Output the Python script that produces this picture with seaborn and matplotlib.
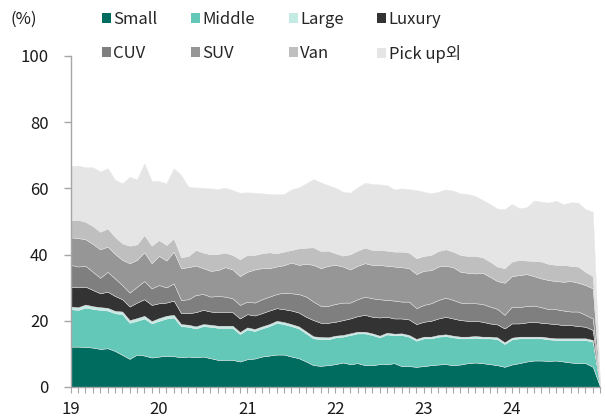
import numpy as np
import matplotlib
matplotlib.use("Agg")
import matplotlib.pyplot as plt
import seaborn as sns
from matplotlib.patches import Patch
from matplotlib.ticker import MultipleLocator

# monthly share (%) Jan 2019 - Dec 2024, last point closes to zero
months = np.arange(73)
year_labels = ["19", "20", "21", "22", "23", "24"]

small = [12.2, 12.2, 12.1, 11.9, 11.5, 11.7, 10.9, 9.7, 8.5, 9.8, 9.5, 8.9,
         9.2, 9.4, 9.3, 9.0, 9.2, 9.0, 9.2, 8.7, 8.2, 8.2, 8.2, 7.7,
         8.4, 8.6, 9.2, 9.5, 9.8, 9.8, 9.2, 8.7, 7.7, 6.6, 6.4, 6.6,
         6.9, 7.4, 6.9, 7.2, 6.6, 6.6, 6.9, 6.9, 7.2, 6.3, 6.3, 6.1,
         6.3, 6.6, 6.8, 6.9, 6.6, 6.8, 7.2, 7.4, 7.2, 6.9, 6.6, 6.1,
         6.8, 7.2, 7.7, 8.0, 8.0, 7.9, 8.0, 7.7, 7.4, 7.2, 7.2, 6.1, 0]
middle = [11.3, 11.1, 11.9, 11.7, 11.8, 11.4, 11.4, 12.3, 10.9, 10.2, 11.2, 10.3,
          10.8, 11.3, 11.7, 9.4, 9.0, 8.7, 9.2, 9.5, 9.7, 9.7, 9.7, 8.3,
          9.0, 8.3, 8.5, 8.9, 9.6, 9.2, 9.2, 9.0, 8.5, 8.1, 8.1, 7.8,
          8.1, 7.8, 8.8, 9.0, 9.6, 9.1, 8.1, 9.0, 8.4, 9.4, 8.9, 7.9,
          8.4, 8.1, 8.4, 8.5, 8.4, 7.9, 7.5, 7.5, 7.5, 7.8, 7.9, 6.9,
          7.6, 7.5, 7.0, 6.7, 6.7, 6.5, 6.2, 6.5, 6.8, 7.0, 7.0, 7.6, 0]
large = [0.8, 0.8, 0.9, 0.8, 0.8, 0.8, 0.7, 0.8, 0.8, 0.8, 0.8, 0.7,
         0.8, 0.8, 0.8, 0.6, 0.6, 0.6, 0.6, 0.6, 0.6, 0.6, 0.6, 0.6,
         0.6, 0.6, 0.6, 0.6, 0.6, 0.6, 0.6, 0.6, 0.6, 0.6, 0.6, 0.6,
         0.5, 0.5, 0.5, 0.5, 0.5, 0.5, 0.5, 0.5, 0.5, 0.5, 0.5, 0.5,
         0.5, 0.5, 0.5, 0.5, 0.5, 0.5, 0.5, 0.5, 0.5, 0.5, 0.5, 0.5,
         0.5, 0.5, 0.5, 0.5, 0.5, 0.5, 0.5, 0.5, 0.5, 0.5, 0.5, 0.5, 0]
luxury = [6.0, 6.0, 5.4, 4.9, 4.2, 4.9, 4.5, 3.7, 4.1, 4.7, 5.0, 4.9,
          4.5, 4.0, 4.3, 3.3, 3.5, 4.3, 4.3, 4.0, 4.1, 4.1, 4.1, 4.1,
          4.0, 4.1, 4.0, 4.1, 3.8, 3.9, 4.1, 4.2, 4.4, 4.9, 4.3, 4.4,
          4.2, 4.5, 4.5, 4.7, 5.1, 5.0, 5.5, 4.8, 4.6, 4.5, 4.7, 4.5,
          4.5, 4.8, 5.0, 5.3, 5.2, 5.0, 4.8, 4.6, 4.5, 4.0, 3.9, 4.2,
          4.3, 4.0, 4.3, 4.5, 4.2, 4.3, 4.3, 4.0, 4.0, 3.7, 3.5, 3.0, 0]
cuv = [6.6, 6.3, 6.3, 5.5, 4.7, 6.0, 5.3, 4.3, 4.2, 4.8, 5.5, 5.0,
       5.5, 4.6, 5.2, 4.0, 4.2, 5.2, 4.8, 4.5, 4.9, 4.7, 4.2, 4.1,
       3.8, 3.9, 4.2, 4.2, 4.3, 5.0, 5.2, 5.6, 6.1, 5.6, 5.1, 5.1,
       5.4, 5.3, 4.8, 5.1, 5.5, 5.6, 5.5, 5.1, 5.4, 5.1, 5.4, 4.8,
       5.1, 5.3, 5.6, 5.8, 5.6, 5.3, 5.3, 5.3, 5.4, 5.1, 4.7, 4.1,
       5.1, 4.9, 5.0, 4.9, 4.7, 4.3, 4.5, 4.4, 4.1, 4.4, 3.6, 3.5, 0]
suv = [8.3, 8.6, 8.0, 8.4, 8.6, 7.6, 7.4, 7.6, 8.9, 8.1, 8.7, 7.6,
       8.8, 8.1, 9.6, 9.6, 9.7, 8.9, 7.8, 7.8, 7.8, 8.9, 8.7, 8.7,
       9.0, 10.0, 9.4, 8.6, 8.3, 8.3, 9.3, 8.8, 9.9, 11.1, 11.4, 12.1,
       11.8, 10.9, 10.0, 10.1, 10.1, 10.1, 10.4, 10.3, 10.3, 10.4, 10.1, 10.3,
       10.3, 10.0, 10.1, 9.6, 9.9, 9.3, 9.2, 9.0, 9.4, 9.0, 8.4, 9.7,
       9.2, 9.7, 9.6, 8.9, 8.7, 8.8, 8.5, 8.7, 9.2, 8.7, 9.0, 9.1, 0]
van = [5.1, 5.5, 5.3, 5.4, 5.3, 5.5, 5.2, 5.0, 5.3, 4.7, 5.2, 5.3,
       4.8, 4.7, 4.0, 3.3, 3.4, 4.7, 4.7, 5.0, 4.9, 4.4, 4.4, 5.1,
       5.1, 4.4, 4.5, 4.8, 4.0, 4.1, 3.8, 5.0, 4.9, 5.3, 5.2, 4.6,
       3.5, 3.3, 4.6, 4.6, 4.7, 4.5, 4.5, 4.6, 4.5, 4.7, 4.7, 4.8,
       4.5, 4.6, 4.7, 5.0, 4.7, 5.1, 5.1, 5.3, 4.7, 4.6, 4.4, 4.4,
       4.4, 4.6, 4.1, 4.6, 5.1, 4.9, 4.9, 5.1, 4.6, 4.9, 4.0, 3.7, 0]
pickup_etc = [16.5, 16.4, 16.5, 17.8, 18.2, 18.2, 17.3, 18.1, 20.8, 19.6, 21.7, 19.6,
              17.8, 18.6, 21.2, 24.8, 20.9, 18.9, 19.6, 19.9, 19.6, 19.6, 19.6, 20.1,
              18.9, 18.8, 18.1, 17.6, 17.8, 17.4, 18.3, 18.4, 19.4, 20.6, 20.7, 19.8,
              19.8, 19.3, 18.6, 19.1, 19.6, 19.9, 19.8, 19.8, 18.8, 19.1, 19.2, 20.6,
              19.4, 18.6, 17.9, 18.1, 18.4, 18.6, 18.7, 18.1, 17.3, 17.4, 17.5, 17.8,
              17.4, 15.6, 16.1, 18.2, 18.1, 18.5, 19.4, 18.3, 19.2, 19.3, 18.9, 19.5, 0]

labels = ["Small", "Middle", "Large", "Luxury", "CUV", "SUV", "Van", "Pick up외"]
colors = ["#006b5f", "#64c8b9", "#c4eae4", "#333333",
          "#7f7f7f", "#969696", "#bfbfbf", "#e5e5e5"]

sns.set_theme(style="white")
plt.rcParams["font.family"] = ["Noto Sans CJK KR", "DejaVu Sans"]

fig = plt.figure(figsize=(6.05, 4.19), dpi=100)
ax = fig.add_axes([0.117, 0.0764, 0.875, 0.79])

series = [small, middle, large, luxury, cuv, suv, van, pickup_etc]
ax.stackplot(months, *series, colors=colors, labels=labels,
             edgecolor="#e8e8e8", linewidth=0.3)

ax.set_xlim(0, 72)
ax.set_ylim(0, 100)
ax.set_xticks(np.arange(0, 61, 12))
ax.set_xticklabels(year_labels)
ax.xaxis.set_minor_locator(MultipleLocator(1))
ax.set_yticks(np.arange(0, 101, 20))

for side in ["top", "right"]:
    ax.spines[side].set_visible(False)
for side in ["left", "bottom"]:
    ax.spines[side].set_color("#a6a6a6")
    ax.spines[side].set_linewidth(1)

ax.tick_params(axis="y", which="major", left=True, length=5, width=1,
               color="#a6a6a6", pad=11, labelsize=12, labelcolor="#1a1a1a")
ax.tick_params(axis="x", which="both", bottom=True, length=4, width=0.8,
               color="#a6a6a6", pad=6, labelsize=12, labelcolor="#1a1a1a")

fig.text(0.018, 0.955, "(%)", fontsize=12, color="#1a1a1a", va="center")

# legend laid out row by row
handles = [Patch(facecolor=c, edgecolor="none") for c in colors]
order = [0, 4, 1, 5, 2, 6, 3, 7]
fig.legend([handles[i] for i in order], [labels[i] for i in order],
           loc="upper left", bbox_to_anchor=(0.168, 0.973), ncol=4,
           frameon=False, fontsize=12, handlelength=0.55, handleheight=0.55,
           handletextpad=0.15, columnspacing=2.0, labelspacing=1.0,
           borderpad=0, borderaxespad=0)

fig.savefig("out.png", dpi=100, facecolor="white")
